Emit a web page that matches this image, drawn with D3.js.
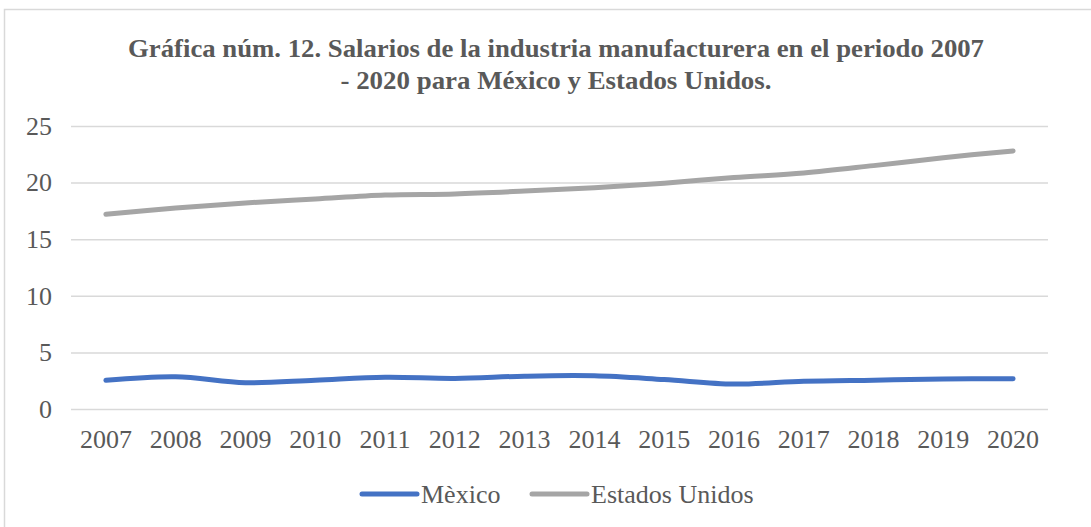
<!DOCTYPE html>
<html>
<head>
<meta charset="utf-8">
<script src="https://cdn.jsdelivr.net/npm/d3@7"></script>
<style>
  html, body { margin: 0; padding: 0; background: #fff; }
  svg { display: block; }
</style>
</head>
<body>
<svg id="chart" width="1091" height="527"></svg>
<script>
// Manufacturing wages, 2007-2020
const years = ["2007","2008","2009","2010","2011","2012","2013","2014","2015","2016","2017","2018","2019","2020"];
const mexico = [2.53, 2.85, 2.32, 2.55, 2.8, 2.7, 2.9, 2.93, 2.6, 2.2, 2.45, 2.55, 2.65, 2.67];
const estadosUnidos = [17.2, 17.75, 18.2, 18.55, 18.9, 19.0, 19.25, 19.55, 19.95, 20.45, 20.85, 21.5, 22.2, 22.8];
const yTicks = [0, 5, 10, 15, 20, 25];
const seriesNames = ["Mèxico", "Estados Unidos"];
const seriesColors = ["#4472C4", "#A5A5A5"];
const titleLines = [
  "Gráfica núm. 12. Salarios de la industria  manufacturera  en el periodo  2007",
  "- 2020 para México y Estados Unidos."
];

const svg = d3.select("#chart");
const W = 1091, H = 527;
const plot = { left: 71, right: 1048, top: 126, bottom: 409 };
const serif = "'Liberation Serif', 'Times New Roman', serif";
const textColor = "#595959";

// outer chart frame
svg.append("rect")
  .attr("x", 4.5).attr("y", 9.5)
  .attr("width", W + 10).attr("height", H + 10)
  .attr("fill", "#fff").attr("stroke", "#d9d9d9").attr("stroke-width", 1.5);

// title (condensed bold serif)
svg.append("g").selectAll("text").data(titleLines).join("text")
  .attr("x", 556)
  .attr("y", (d, i) => 57 + i * 32)
  .attr("text-anchor", "middle")
  .attr("font-family", serif)
  .attr("font-weight", "bold")
  .attr("font-size", 26)
  .attr("fill", textColor)
  .attr("textLength", (d, i) => i === 0 ? 856 : 431)
  .attr("lengthAdjust", "spacingAndGlyphs")
  .text(d => d);

const x = d3.scaleBand().domain(years).range([plot.left, plot.right]);
const y = d3.scaleLinear().domain([0, 25]).range([plot.bottom, plot.top]);

// horizontal gridlines
svg.append("g")
  .attr("transform", `translate(${plot.left},0)`)
  .call(d3.axisLeft(y).tickValues(yTicks).tickSize(-(plot.right - plot.left)).tickFormat(""))
  .call(g => g.select(".domain").remove())
  .call(g => g.selectAll("line").attr("stroke", "#d9d9d9").attr("stroke-width", 1.5));

// y tick labels
svg.append("g")
  .attr("transform", `translate(52,0)`)
  .call(d3.axisLeft(y).tickValues(yTicks).tickSize(0).tickPadding(0))
  .call(g => g.select(".domain").remove())
  .call(g => g.selectAll("text")
    .attr("font-family", serif).attr("font-size", 26).attr("fill", textColor));

// x tick labels
svg.append("g")
  .attr("transform", `translate(0,${plot.bottom})`)
  .call(d3.axisBottom(x).tickSize(0).tickPadding(21))
  .call(g => g.select(".domain").remove())
  .call(g => g.selectAll("text")
    .attr("font-family", serif).attr("font-size", 26).attr("fill", textColor));

// series lines
const line = d3.line()
  .x((d, i) => x(years[i]) + x.bandwidth() / 2)
  .y(d => y(d))
  .curve(d3.curveCatmullRom.alpha(0.5));

[mexico, estadosUnidos].forEach((vals, k) => {
  svg.append("path")
    .datum(vals)
    .attr("d", line)
    .attr("fill", "none")
    .attr("stroke", seriesColors[k])
    .attr("stroke-width", 5)
    .attr("stroke-linecap", "round")
    .attr("stroke-linejoin", "round");
});

// legend
const legendX = [362, 532];
const legend = svg.append("g");
seriesNames.forEach((name, k) => {
  legend.append("line")
    .attr("x1", legendX[k]).attr("x2", legendX[k] + 55)
    .attr("y1", 494).attr("y2", 494)
    .attr("stroke", seriesColors[k]).attr("stroke-width", 5)
    .attr("stroke-linecap", "round");
  legend.append("text")
    .attr("x", legendX[k] + 59).attr("y", 503)
    .attr("font-family", serif).attr("font-size", 26).attr("fill", textColor)
    .text(name);
});
</script>
</body>
</html>
